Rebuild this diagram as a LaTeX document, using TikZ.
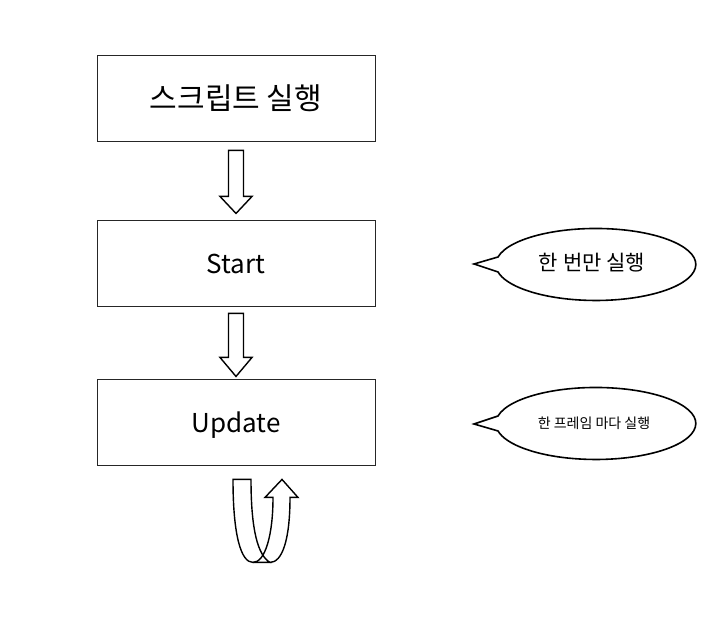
\documentclass[tikz,border=0pt]{standalone}
\usepackage{fontspec}
\setmainfont{Noto Sans CJK KR}
\usetikzlibrary{calc}
\tikzset{
  box/.style={draw=black!85, line width=0.9pt, minimum width=278pt, minimum height=86pt, inner sep=0pt},
  latinlabel/.style={font=\fontsize{26}{30}\selectfont, text height=21pt, text depth=0pt},
  blockarrow/.style={draw=black, line width=1.4pt, line join=miter, fill=white},
  callout/.style={draw=black, line width=1.6pt, line join=miter, fill=white},
  ribbon/.style={draw=black, line width=1.4pt, line join=miter}
}
\begin{document}
\begin{tikzpicture}[x=1pt,y=1pt]
\useasboundingbox (0,0) rectangle (724,623);
\node[box, font=\fontsize{30}{34}\selectfont] (script) at (236,525) {스크립트 실행};
\node[box, latinlabel] (start) at (236,360) {Start};
\node[box, latinlabel] (update) at (236,201) {Update};
% block arrow script -> start
\draw[blockarrow] ($(script.south)+(-7.5,-9)$) -- ($(script.south)+(7.5,-9)$) -- ($(script.south)+(7.5,-55)$) -- ($(script.south)+(16,-55)$) -- ($(script.south)+(0,-72)$) -- ($(script.south)+(-16,-55)$) -- ($(script.south)+(-7.5,-55)$) -- cycle;
% block arrow start -> update
\draw[blockarrow] ($(start.south)+(-7.5,-7)$) -- ($(start.south)+(7.5,-7)$) -- ($(start.south)+(7.5,-51)$) -- ($(start.south)+(16,-51)$) -- ($(start.south)+(0,-70)$) -- ($(start.south)+(-16,-51)$) -- ($(start.south)+(-7.5,-51)$) -- cycle;
% loop arrow
\begin{scope}[shift={(update.south)}]
\draw[ribbon] (-3,-14) -- (15,-14) .. controls (15,-65) and (22,-90) .. (34,-97) -- (17,-97) .. controls (5,-97) and (-3,-70) .. (-3,-14) -- cycle;
\draw[ribbon] (17,-97) .. controls (29,-97) and (37,-70) .. (37,-32) -- (29,-32) -- (46,-14) -- (62,-32) -- (54,-32) .. controls (54,-75) and (46,-97) .. (34,-97);
\end{scope}
% callouts
\draw[callout] (474,359) -- (498,366) arc[start angle=168, end angle=-168, x radius=100, y radius=36] -- cycle;
\node[font=\fontsize{21}{24}\selectfont] (once) at (592,360) {한 번만 실행};
\draw[callout] (474,199) -- (498,207) arc[start angle=168, end angle=-168, x radius=100, y radius=36] -- cycle;
\node[font=\fontsize{14}{17}\selectfont] (every) at (594,200) {한 프레임 마다 실행};
\end{tikzpicture}
\end{document}
